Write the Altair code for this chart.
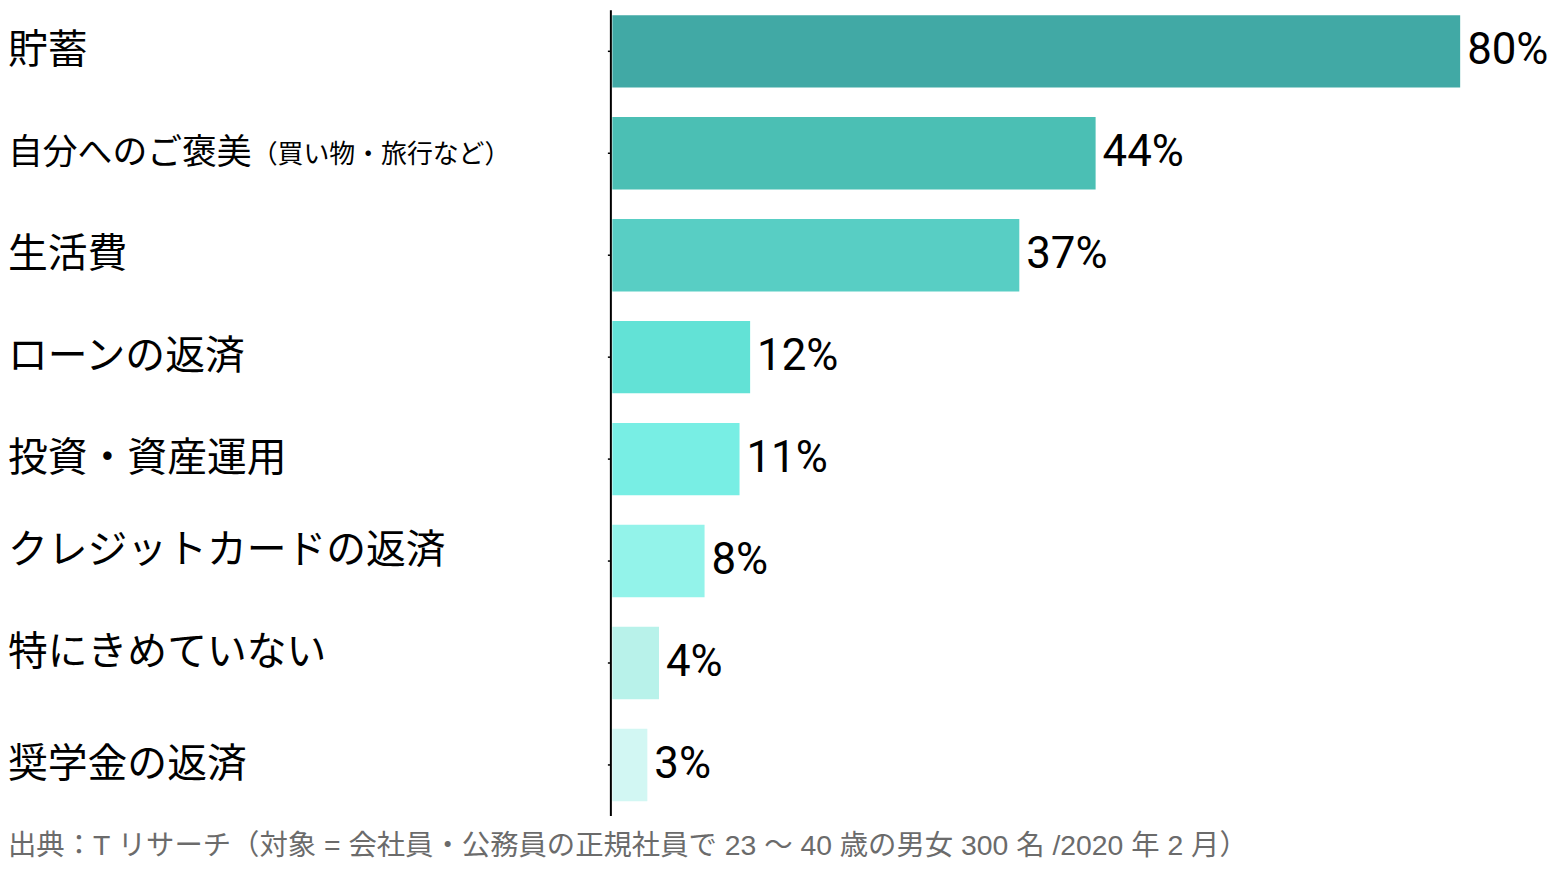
import altair as alt
import pandas as pd

categories = ["貯蓄", "自分へのご褒美", "生活費", "ローンの返済", "投資・資産運用",
              "クレジットカードの返済", "特にきめていない", "奨学金の返済"]
bar_values = [80.0, 45.6, 38.4, 13.0, 12.0, 8.7, 4.4, 3.3]
value_labels = ["80%", "44%", "37%", "12%", "11%", "8%", "4%", "3%"]
bar_colors = ["#41a9a5", "#4bbfb4", "#58cec4", "#62e2d6", "#78eee4", "#93f3ea", "#b8f2ea", "#d2f7f3"]
sub_label = "（買い物・旅行など）"
source_note = "出典：T リサーチ（対象 = 会社員・公務員の正規社員で 23 〜 40 歳の男女 300 名 /2020 年 2 月）"

df = pd.DataFrame({"cat": categories, "value": bar_values, "label": value_labels})

JP = "Noto Sans CJK JP"
yenc = alt.Y("cat:N", axis=None, sort=categories,
             scale=alt.Scale(domain=categories, range=[-10, 810], paddingInner=0.29, paddingOuter=0.146))
xenc = alt.X("value:Q", axis=None, scale=alt.Scale(domain=[0, 80], range=[607.5, 1459.7]))

base = alt.Chart(df)

bars = base.mark_bar().encode(
    x=xenc, y=yenc,
    color=alt.Color("cat:N", scale=alt.Scale(domain=categories, range=bar_colors), legend=None),
)

values = base.mark_text(align="left", baseline="middle", dx=7, font="Roboto", fontSize=44, color="black").encode(
    x=xenc, y=yenc, text="label:N"
)

special = ["自分へのご褒美", "クレジットカードの返済", "特にきめていない"]
lab_main = base.transform_filter(
    ~alt.FieldOneOfPredicate(field="cat", oneOf=special)
).mark_text(align="left", baseline="middle", font=JP, fontSize=40, color="black").encode(
    x=alt.value(0), y=yenc, text="cat:N"
)
lab_up = base.transform_filter(
    alt.FieldOneOfPredicate(field="cat", oneOf=["クレジットカードの返済", "特にきめていない"])
).mark_text(align="left", baseline="middle", font=JP, fontSize=40, color="black", dy=-10).encode(
    x=alt.value(0), y=yenc, text="cat:N"
)
lab_self = base.transform_filter(
    alt.datum.cat == "自分へのご褒美"
).mark_text(align="left", baseline="middle", font=JP, fontSize=35, color="black").encode(
    x=alt.value(0), y=yenc, text="cat:N"
)
lab_sub = base.transform_filter(
    alt.datum.cat == "自分へのご褒美"
).mark_text(align="left", baseline="middle", font=JP, fontSize=26, color="black", dy=2).encode(
    x=alt.value(245), y=yenc, text=alt.value(sub_label)
)

ticks = base.mark_rule(color="black", strokeWidth=1.5).encode(
    x=alt.value(603), x2=alt.value(606), y=yenc
)

one = base.transform_filter(alt.datum.cat == "貯蓄")
axis_line = one.mark_rule(color="black", strokeWidth=2).encode(
    x=alt.value(606), y=alt.value(0), y2=alt.value(810)
)
footer = one.mark_text(align="left", baseline="middle", font="Liberation Sans, " + JP, fontSize=28.5,
                       color="#6b6b6b").encode(
    x=alt.value(0), y=alt.value(840), text=alt.value(source_note)
)

chart = alt.layer(bars, ticks, axis_line, values, lab_main, lab_up, lab_self, lab_sub, footer).properties(
    width=1550, height=852, padding=0, autosize=alt.AutoSizeParams(type="none")
).configure_view(stroke=None)

chart.save("out.html", embed_options={"renderer": "svg", "actions": False})
